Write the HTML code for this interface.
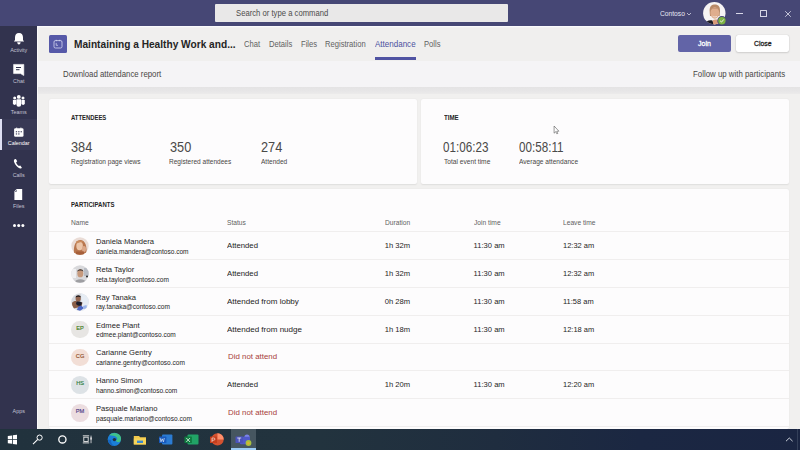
<!DOCTYPE html>
<html><head><meta charset="utf-8">
<style>
*{box-sizing:border-box;margin:0;padding:0}
html,body{width:800px;height:450px;overflow:hidden;background:#f1f0ef;font-family:"Liberation Sans",sans-serif;color:#252424}
.a{position:absolute}
.t{white-space:nowrap;line-height:1;transform-origin:0 0}
</style></head><body>
<div class="a" style="left:0px;top:0px;width:800.00px;height:26.00px;background:#464775;"></div>
<div class="a" style="left:215px;top:4px;width:293.00px;height:18.00px;background:#e9e8e8;border-radius:1px"></div>
<div class="a t" style="left:236.26px;top:9.09px;font-size:8.6px;color:#4d4c4b;transform:scaleX(0.895);">Search or type a command</div>
<div class="a t" style="left:659.83px;top:10.08px;font-size:7.2px;color:#e6e6f2;transform:scaleX(0.93);">Contoso</div>
<svg class="a" style="left:686px;top:12px" width="6" height="4" viewBox="0 0 6 4"><path d="M1 1 L3 3 L5 1" fill="none" stroke="#d6d6e6" stroke-width=".8"/></svg>
<svg class="a" style="left:703px;top:2px" width="25" height="25" viewBox="0 0 25 25">
<defs><clipPath id="av"><circle cx="11.3" cy="11.2" r="11.2"/></clipPath></defs>
<g clip-path="url(#av)"><rect x="0" y="0" width="23" height="23" fill="#f6f4f4"/>
<path d="M6.6 9 C6.4 3.4 9.4 2.4 11.8 2.4 C14.6 2.4 17.2 3.6 17 9 L16.6 14 L7 14Z" fill="#b88a68"/>
<ellipse cx="11.8" cy="11" rx="4.4" ry="5.8" fill="#dfae8e"/>
<path d="M7.6 8 C8.4 5 15 4.8 16 8 C14.6 6.4 9 6.4 7.6 8Z" fill="#c49474"/>
<path d="M9.6 14.2 C10.8 15.2 13 15.2 14 14.2" stroke="#f4e8e0" stroke-width=".8" fill="none"/>
<path d="M1 23 L3.5 19.6 C5.6 18.4 7.8 17.8 9.6 18.8 L11 23Z" fill="#1a1a22"/>
<path d="M9.6 18.4 C11 17.4 13 17.4 14.6 18 L16 23 L10.5 23Z" fill="#d89a78"/>
</g>
<circle cx="18.9" cy="18.7" r="4.6" fill="#464775"/><circle cx="18.9" cy="18.7" r="3.7" fill="#7cb342"/>
<path d="M17.1 18.8 L18.5 20.1 L20.8 17.4" fill="none" stroke="#f4f4f4" stroke-width=".9"/>
</svg>
<div class="a" style="left:736px;top:13.2px;width:6.50px;height:0.80px;background:#d8d8e8;"></div>
<div class="a" style="left:760px;top:10.3px;width:6.6px;height:6.4px;border:.8px solid #d8d8e8;border-radius:.5px"></div>
<svg class="a" style="left:784px;top:9.5px" width="8" height="8" viewBox="0 0 8 8"><path d="M1.2 1.2 L6.8 6.8 M6.8 1.2 L1.2 6.8" stroke="#d8d8e8" stroke-width=".85"/></svg>
<div class="a" style="left:0px;top:26px;width:37.00px;height:403.00px;background:#32334e;"></div>
<div class="a" style="left:0px;top:119.2px;width:37.00px;height:31.10px;background:#383955;"></div>
<div class="a" style="left:0px;top:119.2px;width:2.20px;height:31.10px;background:#dedff3;"></div>
<div class="a" style="left:36.8px;top:26px;width:1.60px;height:402.50px;background:#fbfafa;"></div>
<div class="a t" style="left:0;width:37.4px;text-align:center;top:47.57px;font-size:5.8px;color:#c2c2d4;transform:scaleX(.93);transform-origin:50% 0">Activity</div>
<div class="a t" style="left:0;width:37.4px;text-align:center;top:78.57px;font-size:5.8px;color:#c2c2d4;transform:scaleX(.93);transform-origin:50% 0">Chat</div>
<div class="a t" style="left:0;width:37.4px;text-align:center;top:109.87px;font-size:5.8px;color:#c2c2d4;transform:scaleX(.93);transform-origin:50% 0">Teams</div>
<div class="a t" style="left:0;width:37.4px;text-align:center;top:140.67px;font-size:5.8px;color:#ffffff;transform:scaleX(.93);transform-origin:50% 0">Calendar</div>
<div class="a t" style="left:0;width:37.4px;text-align:center;top:172.57px;font-size:5.8px;color:#c2c2d4;transform:scaleX(.93);transform-origin:50% 0">Calls</div>
<div class="a t" style="left:0;width:37.4px;text-align:center;top:203.67px;font-size:5.8px;color:#c2c2d4;transform:scaleX(.93);transform-origin:50% 0">Files</div>
<div class="a t" style="left:0;width:37.4px;text-align:center;top:408.87px;font-size:5.8px;color:#c2c2d4;transform:scaleX(.93);transform-origin:50% 0">Apps</div>
<svg class="a" style="left:0;top:26px" width="37" height="210" viewBox="0 26 37 210">
 <path d="M19 33 C16.2 33 15 35 15 37.5 L15 40 L13.9 41.6 L24.1 41.6 L23 40 L23 37.5 C23 35 21.8 33 19 33 Z" fill="#fff"/>
 <path d="M17.2 42.2 L20.6 42.2 C20.4 43.7 19.8 44.4 18.9 44.4 C18 44.4 17.4 43.7 17.2 42.2Z" fill="#fff"/>
 <path d="M13.6 64.4 L23.8 64.4 L23.8 75.5 L20.5 73.6 L13.6 73.6 Z" fill="#fff" stroke="#fff" stroke-width=".6" stroke-linejoin="round"/>
 <rect x="16" y="67" width="5" height="1" fill="#32334e"/>
 <rect x="16" y="69.2" width="3.5" height="1" fill="#32334e"/>
 <circle cx="18.8" cy="96.9" r="1.9" fill="#fff"/>
 <path d="M17 99.2 h3.6 a.6 .6 0 0 1 .6 .6 v4.6 a2.4 2.4 0 0 1 -4.8 0 v-4.6 a.6 .6 0 0 1 .6 -.6z" fill="#fff"/>
 <circle cx="14.7" cy="97.9" r="1.5" fill="#fff"/>
 <path d="M12.9 100 h3.3 v3.6 a1.7 1.7 0 0 1 -3.3 0z" fill="#fff"/>
 <circle cx="23" cy="97.9" r="1.5" fill="#fff"/>
 <path d="M21.5 100 h3.3 v3.6 a1.7 1.7 0 0 1 -3.3 0z" fill="#fff"/>
 <rect x="14.1" y="128.2" width="9.4" height="8.6" rx="1.3" fill="#fff"/>
 <rect x="16.2" y="127.6" width="1" height="1.2" fill="#fff"/><rect x="20.4" y="127.6" width="1" height="1.2" fill="#fff"/>
 <rect x="15.8" y="131.2" width="1.3" height="1.1" fill="#383955"/><rect x="18.2" y="131.2" width="1.3" height="1.1" fill="#383955"/><rect x="20.6" y="131.2" width="1.3" height="1.1" fill="#383955"/>
 <rect x="15.8" y="133.4" width="1.3" height="1.1" fill="#383955"/><rect x="18.2" y="133.4" width="1.3" height="1.1" fill="#383955"/>
 <path d="M14.6 159.2 C14 159.6 13.6 160.6 14.2 162.2 C15.2 164.8 17.4 167.4 20 168.4 C21 168.7 21.6 168.2 21.9 167.7 L20.3 165.5 L18.9 166 C17.6 165 16.6 163.8 16.1 162.4 L17.2 161.2 L15.9 158.9 Z" fill="#fff"/>
 <path d="M16.6 188.9 L22.2 188.9 L22.2 200 L14.4 200 L14.4 191.2 Z" fill="#fff"/>
 <path d="M16.4 189.8 v1.7 h-1.7" fill="none" stroke="#33344a" stroke-width=".6"/>
 <circle cx="14.5" cy="225.6" r="1.5" fill="#fff"/><circle cx="18.7" cy="225.6" r="1.5" fill="#fff"/><circle cx="22.9" cy="225.6" r="1.5" fill="#fff"/>
</svg>
<div class="a" style="left:38.6px;top:26px;width:761.40px;height:34.50px;background:#f0efee;"></div>
<div class="a" style="left:38px;top:26px;width:762.00px;height:1.00px;background:#fafafc;"></div>
<div class="a" style="left:38px;top:27px;width:762.00px;height:1.00px;background:#f3f2f2;"></div>
<div class="a" style="left:38px;top:60.5px;width:762.00px;height:26.00px;background:#f5f4f6;"></div>
<div class="a" style="left:38px;top:86.5px;width:762.00px;height:7.50px;background:linear-gradient(#e4e3e4,#e8e7e8 70%,#ecebeb);"></div>
<svg class="a" style="left:49px;top:35px" width="18" height="18" viewBox="0 0 18 18">
<rect width="18" height="18" rx="1.5" fill="#5659a8"/>
<rect x="5" y="5.6" width="8" height="7.4" rx="1.4" fill="none" stroke="#dfe0f6" stroke-width=".75"/>
<path d="M7.2 4.8 v1.4 M10.8 4.8 v1.4" stroke="#dfe0f6" stroke-width=".75"/>
<path d="M7.2 7.9 v2.4 h1.8" fill="none" stroke="#dfe0f6" stroke-width=".7"/>
</svg>
<div class="a t" style="left:73.79px;top:37.94px;font-size:11.6px;font-weight:700;color:#252424;transform:scaleX(0.875);">Maintaining a Healthy Work and...</div>
<div class="a t" style="left:243.87px;top:41.23px;font-size:8.2px;color:#616161;transform:scaleX(0.93);">Chat</div>
<div class="a t" style="left:269.07px;top:41.23px;font-size:8.2px;color:#616161;transform:scaleX(0.93);">Details</div>
<div class="a t" style="left:300.77px;top:41.23px;font-size:8.2px;color:#616161;transform:scaleX(0.93);">Files</div>
<div class="a t" style="left:324.77px;top:41.23px;font-size:8.2px;color:#616161;transform:scaleX(0.93);">Registration</div>
<div class="a t" style="left:424.27px;top:41.23px;font-size:8.2px;color:#616161;transform:scaleX(0.93);">Polls</div>
<div class="a t" style="left:375.00px;top:41.23px;font-size:8.2px;color:#4b4f9e;transform:scaleX(0.98);">Attendance</div>
<div class="a" style="left:375px;top:57.3px;width:40.60px;height:2.50px;background:#5053a2;"></div>
<div class="a" style="left:678px;top:34.5px;width:53.00px;height:17.50px;background:#6264a7;border-radius:2px"></div>
<div class="a" style="left:736px;top:34.5px;width:52.50px;height:17.50px;background:#ffffff;border-radius:2px;box-shadow:0 0 1px rgba(0,0,0,.25),0 1px 2px rgba(0,0,0,.12)"></div>
<div class="a t" style="left:698.26px;top:39.91px;font-size:7.4px;color:#ffffff;transform:scaleX(0.95);-webkit-text-stroke:.3px #fff">Join</div>
<div class="a t" style="left:753.62px;top:39.91px;font-size:7.4px;color:#252424;transform:scaleX(0.93);-webkit-text-stroke:.3px #252424">Close</div>
<div class="a t" style="left:62.95px;top:70.63px;font-size:8.2px;color:#484644;transform:scaleX(0.955);">Download attendance report</div>
<div class="a t" style="left:692.85px;top:70.63px;font-size:8.2px;color:#484644;transform:scaleX(0.96);">Follow up with participants</div>
<div class="a" style="left:49px;top:99px;width:367.60px;height:85.40px;background:#fdfcfd;border-radius:2px;box-shadow:0 .5px 1.5px rgba(0,0,0,.08)"></div>
<div class="a" style="left:421.2px;top:99px;width:367.50px;height:85.20px;background:#fdfcfd;border-radius:2px;box-shadow:0 .5px 1.5px rgba(0,0,0,.08)"></div>
<div class="a" style="left:49px;top:188.5px;width:739.70px;height:240.00px;background:#fdfcfd;border-radius:2px;box-shadow:0 .5px 1.5px rgba(0,0,0,.08)"></div>
<div class="a t" style="left:70.92px;top:113.65px;font-size:7.0px;font-weight:700;color:#252424;transform:scaleX(0.843);">ATTENDEES</div>
<div class="a t" style="left:443.57px;top:113.65px;font-size:7.0px;font-weight:700;color:#252424;transform:scaleX(0.88);">TIME</div>
<div class="a t" style="left:71.39px;top:140.28px;font-size:14.5px;color:#4a4948;transform:scaleX(0.879);">384</div>
<div class="a t" style="left:169.69px;top:140.28px;font-size:14.5px;color:#4a4948;transform:scaleX(0.879);">350</div>
<div class="a t" style="left:261.39px;top:140.28px;font-size:14.5px;color:#4a4948;transform:scaleX(0.879);">274</div>
<div class="a t" style="left:443.43px;top:140.25px;font-size:14.3px;color:#4a4948;transform:scaleX(0.815);">01:06:23</div>
<div class="a t" style="left:519.43px;top:140.25px;font-size:14.3px;color:#4a4948;transform:scaleX(0.815);">00:58:11</div>
<div class="a t" style="left:70.74px;top:159.45px;font-size:6.3px;color:#484644;transform:scaleX(1.04);">Registration page views</div>
<div class="a t" style="left:169.34px;top:159.45px;font-size:6.3px;color:#484644;transform:scaleX(1.04);">Registered attendees</div>
<div class="a t" style="left:261.04px;top:159.45px;font-size:6.3px;color:#484644;transform:scaleX(1.04);">Attended</div>
<div class="a t" style="left:443.57px;top:159.45px;font-size:6.3px;color:#484644;transform:scaleX(1.05);">Total event time</div>
<div class="a t" style="left:519.37px;top:159.45px;font-size:6.3px;color:#484644;transform:scaleX(1.05);">Average attendance</div>
<div class="a t" style="left:70.68px;top:201.45px;font-size:7.0px;font-weight:700;color:#252424;transform:scaleX(0.856);">PARTICIPANTS</div>
<div class="a t" style="left:70.63px;top:220.03px;font-size:6.9px;color:#616161;transform:scaleX(0.965);">Name</div>
<div class="a t" style="left:226.53px;top:220.03px;font-size:6.9px;color:#616161;transform:scaleX(0.965);">Status</div>
<div class="a t" style="left:384.53px;top:220.03px;font-size:6.9px;color:#616161;transform:scaleX(0.965);">Duration</div>
<div class="a t" style="left:473.53px;top:220.03px;font-size:6.9px;color:#616161;transform:scaleX(0.965);">Join time</div>
<div class="a t" style="left:562.53px;top:220.03px;font-size:6.9px;color:#616161;transform:scaleX(0.965);">Leave time</div>
<div class="a" style="left:49px;top:231px;width:739.70px;height:1.00px;background:#f0eeee;"></div>
<div class="a" style="left:49px;top:259px;width:739.70px;height:1.00px;background:#f0eeee;"></div>
<div class="a" style="left:49px;top:287px;width:739.70px;height:1.00px;background:#f0eeee;"></div>
<div class="a" style="left:49px;top:315px;width:739.70px;height:1.00px;background:#f0eeee;"></div>
<div class="a" style="left:49px;top:342.8px;width:739.70px;height:1.00px;background:#f0eeee;"></div>
<div class="a" style="left:49px;top:370.4px;width:739.70px;height:1.00px;background:#f0eeee;"></div>
<div class="a" style="left:49px;top:398.1px;width:739.70px;height:1.00px;background:#f0eeee;"></div>
<div class="a" style="left:49px;top:425.7px;width:739.70px;height:1.00px;background:#f0eeee;"></div>
<svg class="a" style="left:71.3px;top:237.3px" width="18" height="18" viewBox="0 0 18 18"><clipPath id="c0"><circle cx="9" cy="9" r="8.7"/></clipPath><g clip-path="url(#c0)"><rect width="18" height="18" fill="#eadcd6"/><path d="M3.5 18 C2 12 3 4 9 3 C15 3 16 10 15.5 18Z" fill="#b8764e"/><ellipse cx="8.6" cy="9" rx="3.3" ry="4.2" fill="#ecc6aa"/><path d="M5 4.6 C7 2.8 11.5 3 13 5.5 C11 4.8 7.5 5 5 7Z" fill="#c98a5c"/><ellipse cx="13" cy="12" rx="2" ry="3" fill="#dba88a"/><rect x="5" y="14.5" width="8" height="4" fill="#a65f3a"/></g></svg>
<div class="a t" style="left:96.07px;top:238.11px;font-size:7.4px;color:#252424;transform:scaleX(1.03);">Daniela Mandera</div>
<div class="a t" style="left:95.64px;top:248.78px;font-size:6.85px;color:#252424;transform:scaleX(0.957);">daniela.mandera@contoso.com</div>
<div class="a t" style="left:226.90px;top:242.12px;font-size:7.5px;color:#252424;transform:scaleX(1.03);">Attended</div>
<div class="a t" style="left:384.79px;top:242.34px;font-size:7.6px;color:#252424;">1h 32m</div>
<div class="a t" style="left:473.59px;top:242.34px;font-size:7.6px;color:#252424;">11:30 am</div>
<div class="a t" style="left:563.00px;top:242.34px;font-size:7.6px;color:#252424;transform:scaleX(0.985);">12:32 am</div>
<svg class="a" style="left:71.3px;top:265.1px" width="18" height="18" viewBox="0 0 18 18"><clipPath id="c1"><circle cx="9" cy="9" r="8.7"/></clipPath><g clip-path="url(#c1)"><rect width="18" height="18" fill="#d9d9dc"/><rect x="0" y="4" width="5" height="9" fill="#f0f0f2"/><rect x="13" y="3" width="5" height="8" fill="#b8bcc4"/><ellipse cx="9.3" cy="8.4" rx="3" ry="3.9" fill="#c6997c"/><path d="M6.2 6.8 C6 3.6 12.4 3.4 12.4 6.8 C11.2 5.2 7.4 5.2 6.2 6.8Z" fill="#3a302c"/><path d="M3 18 C4 13.2 14.5 13 15.5 18Z" fill="#9e9ea2"/><circle cx="16" cy="11.5" r="1" fill="#222"/></g></svg>
<div class="a t" style="left:96.07px;top:265.91px;font-size:7.4px;color:#252424;transform:scaleX(1.03);">Reta Taylor</div>
<div class="a t" style="left:95.64px;top:276.58px;font-size:6.85px;color:#252424;transform:scaleX(0.957);">reta.taylor@contoso.com</div>
<div class="a t" style="left:226.90px;top:269.93px;font-size:7.5px;color:#252424;transform:scaleX(1.03);">Attended</div>
<div class="a t" style="left:384.79px;top:270.14px;font-size:7.6px;color:#252424;">1h 32m</div>
<div class="a t" style="left:473.59px;top:270.14px;font-size:7.6px;color:#252424;">11:30 am</div>
<div class="a t" style="left:563.00px;top:270.14px;font-size:7.6px;color:#252424;transform:scaleX(0.985);">12:32 am</div>
<svg class="a" style="left:71.3px;top:292.90000000000003px" width="18" height="18" viewBox="0 0 18 18"><clipPath id="c2"><circle cx="9" cy="9" r="8.7"/></clipPath><g clip-path="url(#c2)"><rect width="18" height="18" fill="#d6d9df"/><path d="M10 0 H18 V18 H11Z" fill="#e6ecf4"/><ellipse cx="7.2" cy="5.8" rx="2.6" ry="3" fill="#946650"/><path d="M4.5 4.6 C4.8 1.6 9.8 1.6 10 4.4 C8.6 3.4 6 3.4 4.5 4.6Z" fill="#241c1c"/><path d="M1 10 C2.5 7.5 6 7.6 8 9 L11.5 9.4 L10.5 13.5 C8 15 4 14.5 1.5 16Z" fill="#8a5e48"/><path d="M5.5 8.8 C7 8.2 10 8.5 11 9.8 L10 12.8 C8 13 6 12.5 5 11Z" fill="#1c1c2a"/><path d="M7 14 L10 12.6 L13 15 L9 18 L6 17Z" fill="#4c67c4"/><path d="M12 13 L15.5 12 L16 15 L13 16Z" fill="#9ab4e8"/></g></svg>
<div class="a t" style="left:96.07px;top:293.71px;font-size:7.4px;color:#252424;transform:scaleX(1.03);">Ray Tanaka</div>
<div class="a t" style="left:95.64px;top:304.38px;font-size:6.85px;color:#252424;transform:scaleX(0.957);">ray.tanaka@contoso.com</div>
<div class="a t" style="left:226.90px;top:297.73px;font-size:7.5px;color:#252424;transform:scaleX(1.07);">Attended from lobby</div>
<div class="a t" style="left:384.79px;top:297.94px;font-size:7.6px;color:#252424;">0h 28m</div>
<div class="a t" style="left:473.59px;top:297.94px;font-size:7.6px;color:#252424;">11:30 am</div>
<div class="a t" style="left:563.00px;top:297.94px;font-size:7.6px;color:#252424;transform:scaleX(0.985);">11:58 am</div>
<div class="a" style="left:71.3px;top:320.70000000000005px;width:17.6px;height:17.6px;border-radius:50%;background:#e7e5e3"></div>
<div class="a t" style="left:71.3px;width:17.6px;text-align:center;top:325.80px;font-size:5.7px;color:#3f7d20;-webkit-text-stroke:.15px #3f7d20">EP</div>
<div class="a t" style="left:96.07px;top:321.51px;font-size:7.4px;color:#252424;transform:scaleX(1.03);">Edmee Plant</div>
<div class="a t" style="left:95.64px;top:332.18px;font-size:6.85px;color:#252424;transform:scaleX(0.957);">edmee.plant@contoso.com</div>
<div class="a t" style="left:226.90px;top:325.52px;font-size:7.5px;color:#252424;transform:scaleX(1.07);">Attended from nudge</div>
<div class="a t" style="left:384.79px;top:325.74px;font-size:7.6px;color:#252424;">1h 18m</div>
<div class="a t" style="left:473.59px;top:325.74px;font-size:7.6px;color:#252424;">11:30 am</div>
<div class="a t" style="left:563.00px;top:325.74px;font-size:7.6px;color:#252424;transform:scaleX(0.985);">12:18 am</div>
<div class="a" style="left:71.3px;top:348.5px;width:17.6px;height:17.6px;border-radius:50%;background:#f2ded6"></div>
<div class="a t" style="left:71.3px;width:17.6px;text-align:center;top:353.60px;font-size:5.7px;color:#8e4a22;-webkit-text-stroke:.15px #8e4a22">CG</div>
<div class="a t" style="left:96.07px;top:349.31px;font-size:7.4px;color:#252424;transform:scaleX(1.03);">Carianne Gentry</div>
<div class="a t" style="left:95.64px;top:359.98px;font-size:6.85px;color:#252424;transform:scaleX(0.957);">carianne.gentry@contoso.com</div>
<div class="a t" style="left:227.60px;top:353.32px;font-size:7.5px;color:#a8403c;transform:scaleX(1.05);">Did not attend</div>
<div class="a" style="left:71.3px;top:376.3px;width:17.6px;height:17.6px;border-radius:50%;background:#dde2e6"></div>
<div class="a t" style="left:71.3px;width:17.6px;text-align:center;top:381.40px;font-size:5.7px;color:#2a7a3a;-webkit-text-stroke:.15px #2a7a3a">HS</div>
<div class="a t" style="left:96.07px;top:377.11px;font-size:7.4px;color:#252424;transform:scaleX(1.03);">Hanno Simon</div>
<div class="a t" style="left:95.64px;top:387.78px;font-size:6.85px;color:#252424;transform:scaleX(0.957);">hanno.simon@contoso.com</div>
<div class="a t" style="left:226.90px;top:381.12px;font-size:7.5px;color:#252424;transform:scaleX(1.03);">Attended</div>
<div class="a t" style="left:384.79px;top:381.34px;font-size:7.6px;color:#252424;">1h 20m</div>
<div class="a t" style="left:473.59px;top:381.34px;font-size:7.6px;color:#252424;">11:30 am</div>
<div class="a t" style="left:563.00px;top:381.34px;font-size:7.6px;color:#252424;transform:scaleX(0.985);">12:20 am</div>
<div class="a" style="left:71.3px;top:404.1px;width:17.6px;height:17.6px;border-radius:50%;background:#ecdde0"></div>
<div class="a t" style="left:71.3px;width:17.6px;text-align:center;top:409.20px;font-size:5.7px;color:#4a3a86;-webkit-text-stroke:.15px #4a3a86">PM</div>
<div class="a t" style="left:96.07px;top:404.91px;font-size:7.4px;color:#252424;transform:scaleX(1.03);">Pasquale Mariano</div>
<div class="a t" style="left:95.64px;top:415.58px;font-size:6.85px;color:#252424;transform:scaleX(0.957);">pasquale.mariano@contoso.com</div>
<div class="a t" style="left:227.60px;top:408.93px;font-size:7.5px;color:#a8403c;transform:scaleX(1.05);">Did not attend</div>
<svg class="a" style="left:553px;top:125px" width="8" height="10" viewBox="0 0 8 10"><path d="M1.1 1 L1.1 8.2 L2.7 6.7 L3.9 8.9 L4.8 8.4 L3.7 6.3 L5.9 6.2 Z" fill="#fff" stroke="#555" stroke-width=".6" stroke-linejoin="round"/></svg>
<div class="a" style="left:0px;top:428.5px;width:800.00px;height:21.50px;background:linear-gradient(90deg,#21323d 0%,#22333e 40%,#1f2d3f 62%,#1b2742 80%,#1a2542 100%);"></div>
<div class="a" style="left:231px;top:428.8px;width:25.30px;height:21.20px;background:#465660;"></div>
<div class="a" style="left:231px;top:448.3px;width:25.30px;height:1.70px;background:#9ccbf4;"></div>
<svg class="a" style="left:0;top:428px" width="800" height="22" viewBox="0 428 800 22">
 <path d="M7.8 436 L12 435.4 V439.2 H7.8Z M12.8 435.3 L17 434.7 V439.2 H12.8Z M7.8 440 H12 V443.8 L7.8 443.2Z M12.8 440 H17 V444.4 L12.8 443.9Z" fill="#fff"/>
 <circle cx="39.6" cy="437.6" r="2.6" fill="none" stroke="#fff" stroke-width="1"/><path d="M37.8 439.4 L33 444.2" stroke="#fff" stroke-width="1.1"/>
 <circle cx="62.4" cy="439.4" r="3.6" fill="none" stroke="#fff" stroke-width="1.3"/>
 <path d="M82.8 435.8 H89.2 M82.8 442.9 H89.2" stroke="#e8e8e8" stroke-width=".9"/><rect x="83.8" y="437.2" width="4.4" height="4.3" fill="none" stroke="#e8e8e8" stroke-width=".9"/><rect x="90.4" y="435.6" width="1.3" height="7.6" fill="#9aa0a6"/><rect x="90.4" y="437.4" width="1.3" height="2.2" fill="#f0f0f0"/>
 <circle cx="114.3" cy="439.3" r="6.6" fill="#1b7fd8"/><path d="M109.4 435.2 C111.5 432.4 117.8 432 120.4 436 C121.3 437.6 121.2 440 120.2 441.6 C118.8 442.6 116.4 442.2 115.8 440.6 C117.2 440.2 117.6 438.4 116.8 437.4 C115 435.4 111.2 435.4 109.4 435.2Z" fill="#3fc28a"/><path d="M108 439.5 C108 443.5 111 446 114.5 445.9 C112 445 110.5 442.5 111.2 440 Z" fill="#1565c0"/><circle cx="114.4" cy="439.6" r="1.7" fill="#21323d"/>
 <path d="M133.8 436 H139 L140.2 437.2 H146 V444.4 H133.8Z" fill="#f2c94c"/><rect x="133.8" y="438.4" width="12.2" height="6" fill="#f7d55a"/><rect x="137" y="440.6" width="6" height="2.4" fill="#3a8ad0"/>
 <rect x="162" y="434.4" width="10.4" height="10" rx="1" fill="#2b7cd3"/><rect x="159" y="436.6" width="7.4" height="6.4" rx=".6" fill="#185abd"/><path d="M160.1 438 L161 441.8 L162.2 438.8 L163.4 441.8 L164.3 438" fill="none" stroke="#fff" stroke-width=".6"/>
 <rect x="187.5" y="434.4" width="11" height="10" rx="1" fill="#21a366"/><rect x="184.5" y="436.6" width="7.4" height="6.4" rx=".6" fill="#107c41"/><path d="M186.3 438 L190 442 M190 438 L186.3 442" stroke="#fff" stroke-width=".7"/>
 <circle cx="217.5" cy="439.4" r="6.2" fill="#d35230"/><path d="M217.5 433.2 A6.2 6.2 0 0 1 223.7 439.4 H217.5Z" fill="#ff8f6b"/><rect x="210" y="436.6" width="7" height="6.4" rx=".6" fill="#c43e1c"/><path d="M212 442 V438 H213.8 A1.1 1.1 0 0 1 213.8 440.2 H212" fill="none" stroke="#fff" stroke-width=".6"/>
 <circle cx="247" cy="437" r="2.6" fill="#7b83eb"/><rect x="240" y="436.8" width="10" height="7.4" rx="1" fill="#5059c9"/><rect x="235.5" y="436.4" width="7.4" height="6.6" rx=".6" fill="#4b53bc"/><path d="M237.2 438 H241.2 M239.2 438 V441.8" stroke="#fff" stroke-width=".7"/><circle cx="248.5" cy="443" r="2.9" fill="#a8c040"/><circle cx="248.3" cy="443.2" r="1.2" fill="#e0b030"/>
 <path d="M786 441.2 L789.3 438 L792.6 441.2" fill="none" stroke="#dfe3ea" stroke-width=".9"/>
 <rect x="797" y="429" width=".8" height="21" fill="#3a4660"/>
</svg>
</body></html>
